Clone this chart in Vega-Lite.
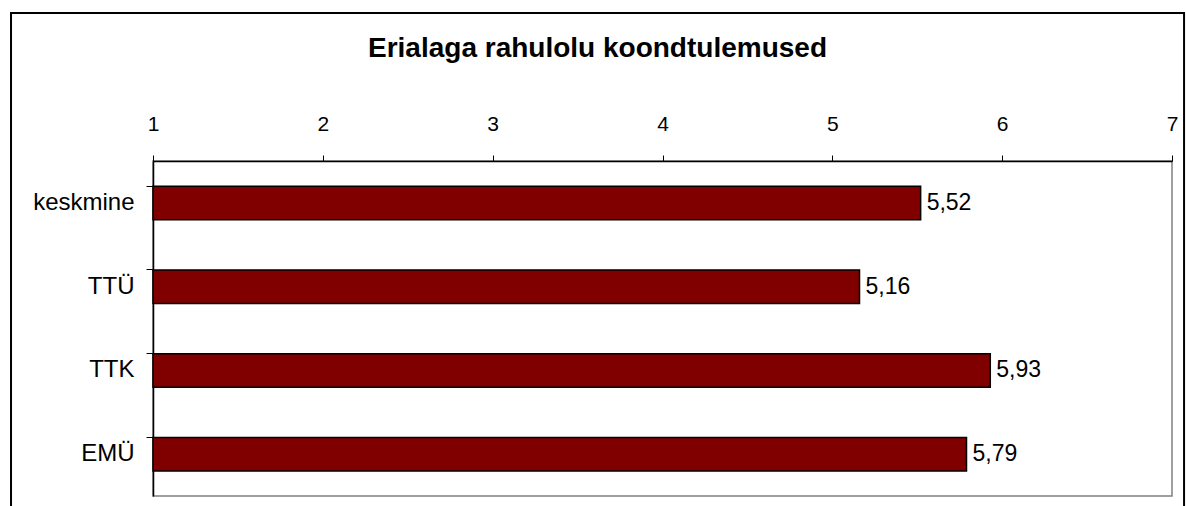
{
  "$schema": "https://vega.github.io/schema/vega-lite/v6.json",
  "width": 1019,
  "height": 335,
  "autosize": {"type": "none"},
  "padding": {"left": 153, "top": 161, "right": 14, "bottom": 10},
  "background": "white",
  "config": {
    "font": "Liberation Sans",
    "view": {"stroke": "#808080", "strokeWidth": 1.5},
    "axis": {"labelColor": "black", "labelFont": "Liberation Sans", "domainColor": "black", "domainWidth": 1.5, "tickColor": "black", "grid": false, "title": null},
    "axisTop": {"labelFontSize": 21},
    "axisLeft": {"labelFontSize": 24},
    "locale": {"number": {"decimal": ",", "thousands": " ", "grouping": [3], "currency": ["", " €"]}}
  },
  "title": {
    "text": "Erialaga rahulolu koondtulemused",
    "font": "Liberation Sans",
    "fontSize": 28,
    "fontWeight": "bold",
    "color": "black",
    "anchor": "middle",
    "dx": -65,
    "offset": -51
  },
  "data": {"values": [
    {"school": "keskmine", "score": 5.52},
    {"school": "TTÜ", "score": 5.16},
    {"school": "TTK", "score": 5.93},
    {"school": "EMÜ", "score": 5.79}
  ]},
  "layer": [
    {
      "data": {"values": [{}]},
      "mark": {"type": "rect", "fill": null, "fillOpacity": 0, "stroke": "black", "strokeWidth": 2, "clip": false},
      "encoding": {
        "x": {"datum": 0.164, "type": "quantitative", "scale": {"domain": [1, 7], "nice": false, "zero": false},
          "axis": {"orient": "top", "values": [1, 2, 3, 4, 5, 6, 7], "format": "d", "tickSize": 6, "labelPadding": 21, "labelFlush": false, "labelFontSize": 21}},
        "x2": {"datum": 7.071},
        "y": {"datum": 1.442, "type": "quantitative", "scale": {"domain": [0, 1], "nice": false, "zero": false}, "axis": null},
        "y2": {"datum": -0.1}
      }
    },
    {
      "layer": [
        {
          "mark": {"type": "bar", "color": "#800000", "stroke": "black", "strokeWidth": 1.5},
          "encoding": {
            "y": {"field": "school", "type": "nominal", "sort": null,
              "scale": {"paddingInner": 0.6, "paddingOuter": 0.3},
              "axis": {"orient": "left", "bandPosition": 0, "tickSize": 7, "labelPadding": 12, "labelFontSize": 24}},
            "x": {"field": "score", "type": "quantitative",
              "scale": {"domain": [1, 7], "nice": false, "zero": false},
              "axis": {"orient": "top", "values": [1, 2, 3, 4, 5, 6, 7], "format": "d", "tickSize": 6, "labelPadding": 21, "labelFlush": false, "labelFontSize": 21}},
            "x2": {"datum": 1}
          }
        },
        {
          "mark": {"type": "text", "align": "left", "baseline": "middle", "dx": 6, "fontSize": 23, "color": "black"},
          "encoding": {
            "y": {"field": "school", "type": "nominal", "sort": null,
              "axis": {"orient": "left", "bandPosition": 0, "tickSize": 7, "labelPadding": 12, "labelFontSize": 24}},
            "x": {"field": "score", "type": "quantitative",
              "axis": {"orient": "top", "values": [1, 2, 3, 4, 5, 6, 7], "format": "d", "tickSize": 6, "labelPadding": 21, "labelFlush": false, "labelFontSize": 21}},
            "text": {"field": "score", "type": "quantitative", "format": ".2f"}
          }
        }
      ]
    }
  ],
  "resolve": {"scale": {"y": "independent"}}
}
